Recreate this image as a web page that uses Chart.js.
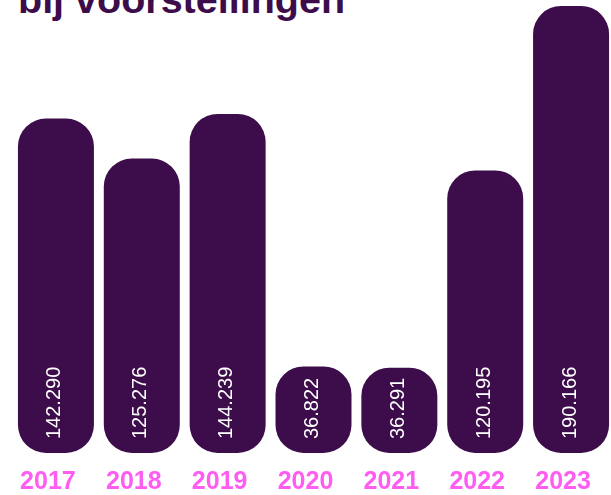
<!DOCTYPE html>
<html>
<head>
<meta charset="utf-8">
<script src="https://cdn.jsdelivr.net/npm/chart.js@4/dist/chart.umd.min.js"></script>
<style>
  html, body { margin: 0; padding: 0; background: #fff; overflow: hidden; }
  #wrap { position: relative; width: 611px; height: 495px; overflow: hidden; }
  #title {
    position: absolute; left: 18px; top: -21px;
    font: bold 39.5px "Liberation Sans", Arial, sans-serif;
    line-height: 40px; color: #3d0c4b; white-space: nowrap;
  }
  canvas { position: absolute; left: 0; top: 0; }
</style>
</head>
<body>
<div id="wrap">
  <div id="title">bij voorstellingen</div>
  <canvas id="chart" width="614" height="511"></canvas>
</div>
<script>
// bezoekers per jaar
const years = ["2017", "2018", "2019", "2020", "2021", "2022", "2023"];
const visitors = [142290, 125276, 144239, 36822, 36291, 120195, 190166];
const valueLabels = ["142.290", "125.276", "144.239", "36.822", "36.291", "120.195", "190.166"];

const purple = "#3d0c4b";
const pink = "#ff5cf2";

// vertical white labels inside the bars
const barLabels = {
  id: "barLabels",
  afterDatasetsDraw(chart) {
    const ctx = chart.ctx;
    const meta = chart.getDatasetMeta(0);
    ctx.save();
    ctx.fillStyle = "#ffffff";
    ctx.font = '20px "Liberation Sans", Arial, sans-serif';
    ctx.textAlign = "left";
    ctx.textBaseline = "middle";
    meta.data.forEach((bar, i) => {
      ctx.save();
      ctx.translate(bar.x - 1, bar.base - 14);
      ctx.rotate(-Math.PI / 2);
      ctx.fillText(valueLabels[i], 0, 0);
      ctx.restore();
    });
    ctx.restore();
  }
};

new Chart(document.getElementById("chart"), {
  type: "bar",
  data: {
    labels: years,
    datasets: [{
      data: visitors,
      backgroundColor: purple,
      borderRadius: 28,
      borderSkipped: false,
      barPercentage: 0.885,
      categoryPercentage: 1
    }]
  },
  options: {
    responsive: false,
    animation: false,
    layout: { padding: { left: 13, right: 0, top: 0, bottom: 0 } },
    plugins: { legend: { display: false }, tooltip: { enabled: false } },
    scales: {
      x: {
        grid: { display: false, drawTicks: false },
        border: { display: false },
        ticks: {
          color: pink,
          font: { family: '"Liberation Sans", Arial, sans-serif', size: 25, weight: "bold" },
          padding: 14,
          labelOffset: -8,
          maxRotation: 0
        }
      },
      y: {
        display: false,
        min: 0,
        max: 192700
      }
    }
  },
  plugins: [barLabels]
});
</script>
</body>
</html>
